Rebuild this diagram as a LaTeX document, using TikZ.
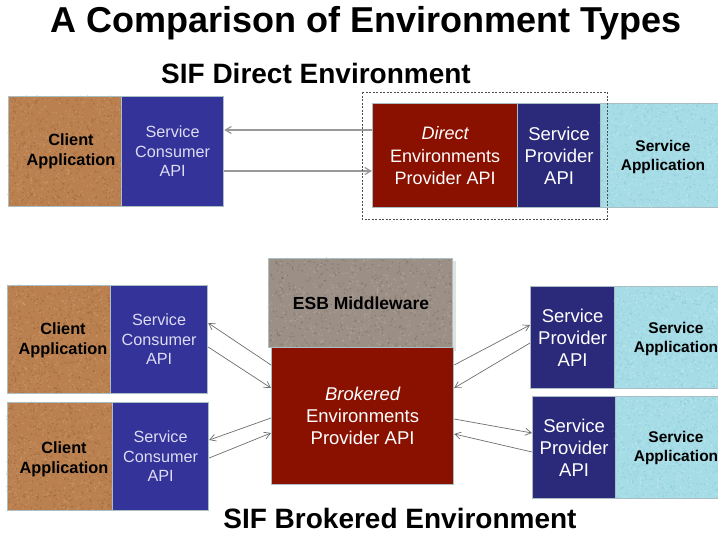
\documentclass[tikz,border=0pt]{standalone}
\usepackage{fontspec}
\setmainfont{Liberation Sans}
\usetikzlibrary{arrows.meta,shadows}
\definecolor{cork}{HTML}{BA8050}
\definecolor{corkD}{HTML}{8F5A30}
\definecolor{corkL}{HTML}{D9A878}
\definecolor{water}{HTML}{A6DCE6}
\definecolor{waterD}{HTML}{7FC3D2}
\definecolor{waterL}{HTML}{D2F1F6}
\definecolor{esb}{HTML}{9C8F86}
\definecolor{esbD}{HTML}{6F625A}
\definecolor{esbL}{HTML}{C4B8AE}
\definecolor{consB}{HTML}{333399}
\definecolor{provB}{HTML}{2B2A7A}
\definecolor{brick}{HTML}{8A1000}
\definecolor{edgec}{HTML}{A9BFC4}
\definecolor{consT}{HTML}{DCDCF4}
\definecolor{arr}{HTML}{6E6E6E}
\newcommand{\texrect}[7]{%
  \fill[#5] (#1,#2) rectangle (#3,#4);
  \foreach \k in {1,...,420}{%
    \pgfmathsetmacro{\px}{#1+rnd*(#3-#1)}%
    \pgfmathsetmacro{\py}{#2+rnd*(#4-#2)}%
    \fill[#6,opacity=0.4] (\px,\py) circle (0.9);
    \pgfmathsetmacro{\qx}{#1+rnd*(#3-#1)}%
    \pgfmathsetmacro{\qy}{#2+rnd*(#4-#2)}%
    \fill[#7,opacity=0.4] (\qx,\qy) circle (0.9);
  }}
\tikzset{
  box/.style={draw=edgec, line width=1.2pt, inner sep=0pt, anchor=north west, align=center},
  apptxt/.style={font=\bfseries\fontsize{16.3}{20}\selectfont, text=black, align=center},
  svctxt/.style={font=\bfseries\fontsize{15.5}{19}\selectfont, text=black, align=center},
  constxt/.style={font=\fontsize{16.2}{19.5}\selectfont, text=consT, align=center},
  provtxt/.style={font=\fontsize{18.5}{22}\selectfont, text=white, align=center},
  link/.style={draw=arr, line width=0.7pt, -{Straight Barb[length=6pt,width=7pt]}},
  toplink/.style={draw=gray!80, line width=1.2pt, -{Straight Barb[length=6pt,width=7pt]}}
}
\begin{document}
\begin{tikzpicture}[x=1pt,y=-1pt]
\pgfmathsetseed{4242}
\useasboundingbox (0,0) rectangle (718,533);
\fill[white] (0,0) rectangle (718,533);
% titles
\node[font=\bfseries\fontsize{36}{40}\selectfont] (title) at (366,23) {A Comparison of Environment Types};
\node[font=\bfseries\fontsize{28}{32}\selectfont] (dtitle) at (316,73) {SIF Direct Environment};
\node[font=\bfseries\fontsize{28}{32}\selectfont] (btitle) at (400,518) {SIF Brokered Environment};
% ---------------- top row -----------------
\texrect{8}{96}{121}{206}{cork}{corkD}{corkL}
\node[box, minimum width=113pt, minimum height=110pt] (ca0) at (8,96) {};
\node[apptxt] (ca0t) at (71,151) {Client\\Application};
\node[box, fill=consB, minimum width=102pt, minimum height=110pt] (sc0) at (121,96) {};
\node[constxt] (sc0t) at (sc0.center) {Service\\Consumer\\API};
\node[box, fill=brick, minimum width=145pt, minimum height=104pt] (dep) at (372,103) {};
\node[provtxt, font=\fontsize{18}{22.5}\selectfont] (dept) at (dep.center) {\itshape Direct\\Environments\\Provider API};
\node[box, fill=provB, minimum width=83pt, minimum height=104pt] (sp0) at (517,103) {};
\node[provtxt] (sp0t) at (sp0.center) {Service\\Provider\\API};
\texrect{600}{103}{718}{207}{water}{waterD}{waterL}
\node[box, minimum width=118pt, minimum height=104pt] (sa0) at (600,103) {};
\node[svctxt] (sa0t) at (663,157) {Service\\Application};
\coordinate (t1a) at (dep.west |- 0,130);
\coordinate (t1b) at (sc0.east |- 0,130);
\coordinate (t2a) at (sc0.east |- 0,171);
\coordinate (t2b) at (dep.west |- 0,171);
\draw[toplink] (t1a) -- (t1b);
\draw[toplink] (t2a) -- (t2b);
\draw[gray!60!black, line width=1pt, dash pattern=on 2pt off 1.5pt] (362,92) rectangle (607,219);
% ---------------- bottom -----------------
\fill[black, opacity=0.12] (271,261) rectangle (456,351);
\texrect{268}{258}{452}{347}{esb}{esbD}{esbL}
\node[box, minimum width=184pt, minimum height=89pt] (esb) at (268,258) {};
\node[font=\bfseries\fontsize{17.5}{21}\selectfont] (esbt) at (361,303) {ESB Middleware};
\node[box, fill=brick, minimum width=182pt, minimum height=137pt] (bep) at (271,347) {};
\node[provtxt] (bept) at (bep.center) {\itshape Brokered\\Environments\\Provider API};
% clients
\texrect{7}{285}{110}{393}{cork}{corkD}{corkL}
\node[box, minimum width=103pt, minimum height=108pt] (ca1) at (7,285) {};
\node[apptxt] (ca1t) at (63,340) {Client\\Application};
\node[box, fill=consB, minimum width=97pt, minimum height=108pt] (sc1) at (110,285) {};
\node[constxt] (sc1t) at (sc1.center) {Service\\Consumer\\API};
\texrect{7}{402}{112}{510}{cork}{corkD}{corkL}
\node[box, minimum width=105pt, minimum height=108pt] (ca2) at (7,402) {};
\node[apptxt] (ca2t) at (64,459) {Client\\Application};
\node[box, fill=consB, minimum width=96pt, minimum height=108pt] (sc2) at (112,402) {};
\node[constxt] (sc2t) at (sc2.center) {Service\\Consumer\\API};
% providers
\node[box, fill=provB, minimum width=84pt, minimum height=102pt] (sp1) at (530,286) {};
\node[provtxt] (sp1t) at (sp1.center) {Service\\Provider\\API};
\texrect{614}{286}{718}{388}{water}{waterD}{waterL}
\node[box, minimum width=104pt, minimum height=102pt] (sa1) at (614,286) {};
\node[svctxt] (sa1t) at (676,339) {Service\\Application};
\node[box, fill=provB, minimum width=83pt, minimum height=102pt] (sp2) at (532,396) {};
\node[provtxt] (sp2t) at (sp2.center) {Service\\Provider\\API};
\texrect{615}{396}{718}{498}{water}{waterD}{waterL}
\node[box, minimum width=103pt, minimum height=102pt] (sa2) at (615,396) {};
\node[svctxt] (sa2t) at (676,448) {Service\\Application};
% arrows bottom-left
\draw[link] (bep.west |- 0,365) -- (sc1.east |- 0,323);
\draw[link] (sc1.east |- 0,347) -- (bep.west |- 0,388);
\draw[link] (bep.west |- 0,418) -- (sc2.east |- 0,440);
\draw[link] (sc2.east |- 0,458) -- (bep.west |- 0,433);
% arrows bottom-right
\draw[link] (bep.east |- 0,365) -- (sp1.west |- 0,325);
\draw[link] (sp1.west |- 0,343) -- (bep.east |- 0,388);
\draw[link] (bep.east |- 0,419) -- (sp2.west |- 0,433);
\draw[link] (sp2.west |- 0,452) -- (bep.east |- 0,434);
\end{tikzpicture}
\end{document}
